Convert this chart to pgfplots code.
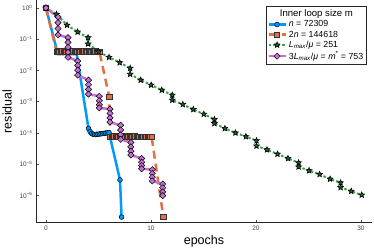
\documentclass[border=0pt]{standalone}
\usepackage{fontspec}
\setmainfont{Liberation Sans}
\usepackage{pgfplots}
\pgfplotsset{compat=1.18}
\definecolor{cblue}{HTML}{009AFA}
\definecolor{corange}{HTML}{E36F47}
\definecolor{cgreen}{HTML}{3EA44E}
\definecolor{cpurple}{HTML}{C371D2}
\pgfdeclareplotmark{fstar}{%
  \pgfpathmoveto{\pgfpointpolar{90}{\pgfplotmarksize}}%
  \pgfpathlineto{\pgfpointpolar{126}{0.45\pgfplotmarksize}}%
  \pgfpathlineto{\pgfpointpolar{162}{\pgfplotmarksize}}%
  \pgfpathlineto{\pgfpointpolar{198}{0.45\pgfplotmarksize}}%
  \pgfpathlineto{\pgfpointpolar{234}{\pgfplotmarksize}}%
  \pgfpathlineto{\pgfpointpolar{270}{0.45\pgfplotmarksize}}%
  \pgfpathlineto{\pgfpointpolar{306}{\pgfplotmarksize}}%
  \pgfpathlineto{\pgfpointpolar{342}{0.45\pgfplotmarksize}}%
  \pgfpathlineto{\pgfpointpolar{18}{\pgfplotmarksize}}%
  \pgfpathlineto{\pgfpointpolar{54}{0.45\pgfplotmarksize}}%
  \pgfpathclose\pgfusepathqfillstroke}
\begin{document}
\begin{tikzpicture}[x=1pt,y=1pt]
\path[use as bounding box] (0,0) rectangle (374,249);
\begin{axis}[
  at={(36pt,26.3pt)}, anchor=south west,
  scale only axis, width=336pt, height=222.7pt,
  xmin=-0.95, xmax=31.05,
  ymode=log, ymin=1.32e-7, ymax=1.8,
  axis x line*=bottom, axis y line*=left,
  axis line style={black!85, line width=0.7pt},
  xtick={0,10,20,30}, xticklabels={0,10,20,30},
  ytick={1,1e-1,1e-2,1e-3,1e-4,1e-5,1e-6},
  yticklabels={10\textsuperscript{0},10\textsuperscript{−1},10\textsuperscript{−2},10\textsuperscript{−3},10\textsuperscript{−4},10\textsuperscript{−5},10\textsuperscript{−6}},
  yminorticks=false,
  tick align=inside, major tick length=2.5pt,
  tick style={black!70, line width=0.4pt},
  ticklabel style={font=\fontsize{6.5}{7}\selectfont, text=black!75},
  xlabel={epochs}, ylabel={residual},
  label style={font=\fontsize{12.5}{14}\selectfont},
  xlabel style={at={(axis description cs:0.5,-0.082)}, anchor=center},
  ylabel style={at={(axis description cs:-0.086,0.5)}, anchor=center},
  legend style={at={(0.985,0.973)}, anchor=north east, font=\fontsize{8.8}{10}\selectfont,
    draw=black!85, line width=0.5pt, inner sep=1.5pt, row sep=-1.5pt},
  legend cell align=left,
  clip=false,
]
\addlegendimage{empty legend}
\addlegendentry{\hspace*{-9pt}\fontsize{9.6}{11}\selectfont Inner loop size m}

\addplot[cblue, line width=2.5pt, mark=*, mark size=2.4pt,
  mark options={fill=cblue, draw=black, line width=0.5pt, solid}] coordinates {
(0,1)
(1.10,0.037)(1.25,0.037)(1.40,0.037)(1.55,0.037)(1.70,0.037)(1.85,0.037)(2.00,0.037)
(2.15,0.037)(2.30,0.037)(2.45,0.037)(2.60,0.037)(2.75,0.037)(2.90,0.037)
(4.05,1.38e-4)(4.20,1.10e-4)(4.35,9.5e-5)(4.50,9.0e-5)(4.65,8.8e-5)(4.80,9.0e-5)
(4.95,9.0e-5)(5.10,9.2e-5)(5.25,9.3e-5)(5.40,9.5e-5)(5.55,9.6e-5)(5.70,9.8e-5)
(5.85,1.0e-4)(6.00,1.02e-4)
(7.05,3.1e-6)(7.20,2.0e-7)
};
\addlegendentry{\textit{n} = 72309}

\addplot[corange, line width=2.5pt, dash pattern=on 8pt off 5pt, mark=square*, mark size=2.6pt,
  mark options={fill=corange, draw=black!80, line width=0.5pt, solid}] coordinates {
(0,1)
(1.00,0.040)(1.13,0.041)(1.26,0.039)(1.40,0.040)(1.53,0.041)(1.66,0.040)(1.79,0.039)(1.92,0.040)
(2.06,0.041)(2.19,0.040)(2.32,0.039)(2.45,0.040)(2.58,0.041)(2.72,0.040)(2.85,0.039)(2.98,0.040)
(3.11,0.041)(3.24,0.040)(3.38,0.039)(3.51,0.040)(3.64,0.041)(3.77,0.040)(3.90,0.039)(4.04,0.040)
(4.17,0.041)(4.30,0.040)(4.43,0.039)(4.56,0.040)(4.70,0.041)(4.83,0.040)(4.96,0.039)(5.09,0.040)
(6.03,1.4e-3)
(6.10,7.3e-5)(6.23,7.6e-5)(6.36,7.4e-5)(6.50,7.8e-5)(6.63,7.5e-5)(6.76,7.3e-5)(6.89,7.7e-5)(7.02,7.5e-5)
(7.16,7.9e-5)(7.29,7.4e-5)(7.42,7.6e-5)(7.55,7.8e-5)(7.68,7.4e-5)(7.82,7.6e-5)(7.95,7.9e-5)(8.08,7.5e-5)
(8.21,7.7e-5)(8.34,7.4e-5)(8.48,7.8e-5)(8.61,7.5e-5)(8.74,7.6e-5)(8.87,7.4e-5)(9.00,7.7e-5)(9.14,7.5e-5)
(9.27,7.6e-5)(9.40,7.4e-5)(9.53,7.6e-5)(9.66,7.5e-5)(9.80,7.4e-5)(9.93,7.5e-5)(10.06,7.5e-5)
(11.17,2.1e-7)
};
\addlegendentry{2\textit{n} = 144618}

\addplot[cgreen, line width=2pt, dash pattern=on 2.5pt off 2pt, mark=fstar, mark size=3pt,
  mark options={fill=cgreen!60!black, draw=black, line width=0.6pt, solid}] coordinates {
(0,1)
(1.002,0.631)(2.005,0.282)(3.007,0.170)(4.009,0.112)(4.009,0.0708)
(5.01,0.0398)(6.01,0.0263)(7.02,0.0178)(8.02,0.01175)(8.02,0.00759)
(9.02,0.00490)(10.02,0.00339)(11.03,0.00234)(12.03,0.00162)(12.03,0.00112)
(13.03,8.13e-4)(14.03,5.62e-4)(15.03,3.98e-4)(16.04,2.69e-4)(16.04,2.00e-4)
(17.04,1.38e-4)(18.04,1.0e-4)(19.04,7.59e-5)(20.05,5.62e-5)(20.05,3.80e-5)
(21.05,2.88e-5)(22.05,2.09e-5)(23.05,1.51e-5)(24.06,1.10e-5)(24.06,8.13e-6)
(25.06,6.17e-6)(26.06,4.68e-6)(27.06,3.31e-6)(28.06,2.51e-6)(28.06,1.78e-6)
(29.07,1.35e-6)(30.07,1.02e-6)
};
\addlegendentry{\textit{L}\textsubscript{\textit{max}}/\textit{μ} = 251}

\addplot[cpurple, line width=2.5pt, mark=diamond*, mark size=3.1pt,
  mark options={fill=cpurple, draw=black, line width=0.5pt, solid, xscale=1.35}] coordinates {
(0,1)
(1.15,0.513)(1.15,0.339)(1.15,0.219)(1.15,0.138)
(2.10,0.112)(2.10,0.0794)(2.10,0.0550)(2.10,0.0380)(2.10,0.0263)
(3.02,0.0200)(3.02,0.01445)(3.02,0.01023)(3.02,0.00708)
(4.05,0.00490)(4.05,0.00347)(4.05,0.00245)(4.05,0.00174)
(5.08,0.00148)(5.08,0.00107)(5.08,7.94e-4)(5.08,6.31e-4)
(6.10,5.75e-4)(6.10,4.17e-4)(6.10,3.02e-4)(6.10,2.19e-4)
(7.11,1.74e-4)(7.11,1.23e-4)(7.11,8.71e-5)(7.11,6.17e-5)
(8.08,4.90e-5)(8.08,3.55e-5)(8.08,2.57e-5)(8.08,1.95e-5)
(9.11,1.51e-5)(9.11,1.15e-5)(9.11,8.91e-6)(9.11,7.08e-6)
(10.13,6.61e-6)(10.13,5.01e-6)(10.13,3.80e-6)(10.13,2.88e-6)
(11.12,2.29e-6)(11.12,1.74e-6)(11.12,1.29e-6)(11.12,9.77e-7)
};
\addlegendentry{3\textit{L}\textsubscript{\textit{max}}/\textit{μ} = \textit{m}\textsuperscript{*} = 753}
\end{axis}
\end{tikzpicture}
\end{document}
